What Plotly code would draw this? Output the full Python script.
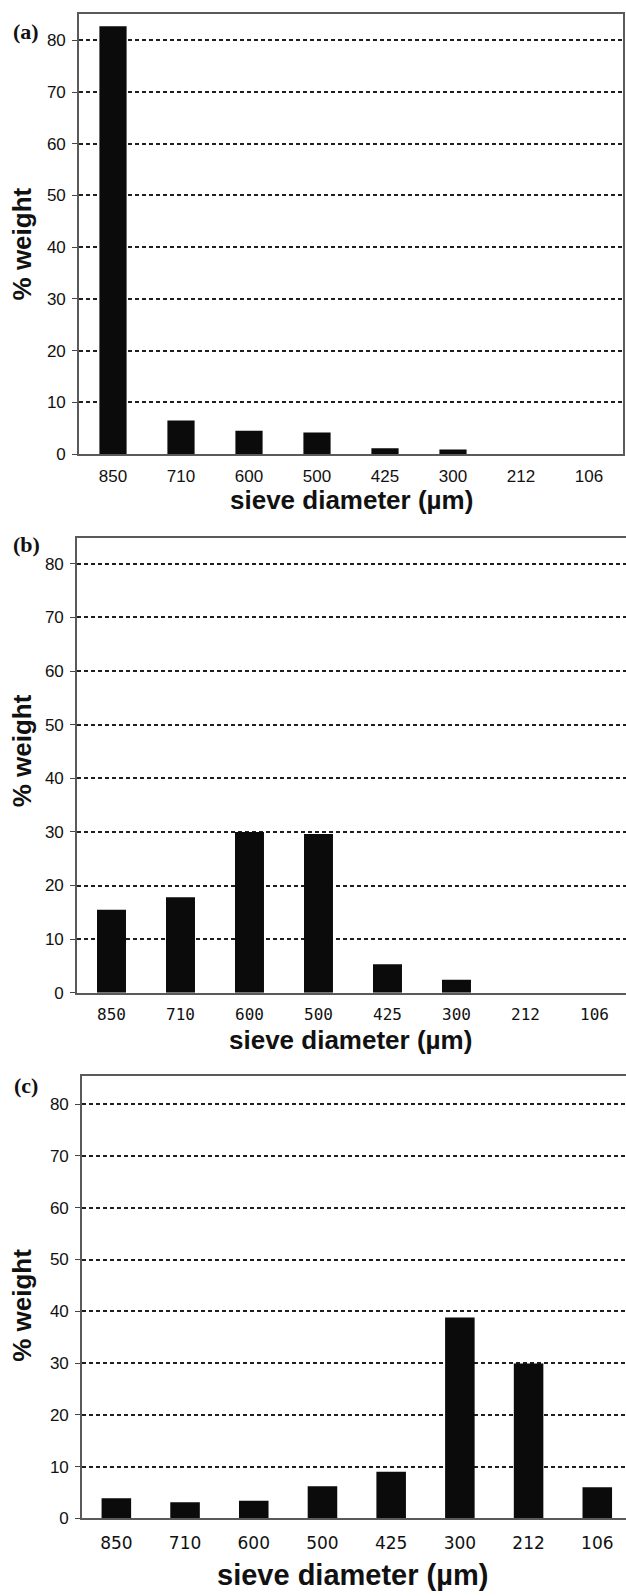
import plotly.graph_objects as go

# ---- data ----
sieve = ["850", "710", "600", "500", "425", "300", "212", "106"]
weight_a = [82.7, 6.5, 4.5, 4.2, 1.15, 0.9, 0, 0]
weight_b = [15.5, 17.8, 30.0, 29.6, 5.3, 2.4, 0, 0]
weight_c = [3.9, 3.1, 3.4, 6.2, 9.0, 38.8, 29.9, 6.0]
panel_labels = ["(a)", "(b)", "(c)"]
y_tickvals = [0, 10, 20, 30, 40, 50, 60, 70, 80]
x_title = "sieve diameter (µm)"
y_title = "% weight"

W, H = 626, 1596


def fx(p):
    return p / W


def fy(p):
    return 1 - p / H


SANS = "Liberation Sans, Arial, sans-serif"

panels = [
    dict(vals=weight_a, left=79, right=623, top=14, bottom=457, xr=[-0.5, 7.5], ymax=85.1,
         bw=0.40, xfont=dict(family=SANS, size=17, color="#111"), standoff=6,
         xt_y=503, xt_size=26, yt_y=246, lab_y=32, mirror_y=True),
    dict(vals=weight_b, left=77, right=626, top=541, bottom=999, xr=[-0.5, 7.457], ymax=84.9,
         bw=0.42, xfont=dict(family="DejaVu Sans Mono, monospace", size=16, color="#111"), standoff=6,
         xt_y=1047, xt_size=26, yt_y=756, lab_y=548, mirror_y=False),
    dict(vals=weight_c, left=82, right=626, top=1083, bottom=1528, xr=[-0.5, 7.418], ymax=85.4,
         bw=0.43, xfont=dict(family="DejaVu Sans, sans-serif", size=17, color="#111"), standoff=8,
         xt_y=1585, xt_size=29, yt_y=1314, lab_y=1092, mirror_y=False),
]

fig = go.Figure()
annotations = []
for i, p in enumerate(panels):
    n = "" if i == 0 else str(i + 1)
    fig.add_trace(go.Bar(
        x=sieve, y=p["vals"], width=p["bw"],
        marker=dict(color="#0b0b0b", line=dict(width=0)),
        xaxis="x" + n, yaxis="y" + n, showlegend=False,
    ))
    fig.layout["xaxis" + n] = dict(
        domain=[fx(p["left"]), fx(p["right"])], anchor="y" + n,
        type="category", categoryorder="array", categoryarray=sieve,
        range=p["xr"], showgrid=False, zeroline=False,
        showline=True, linecolor="#5a5a5a", linewidth=1.6, mirror=True,
        ticks="", tickfont=p["xfont"], ticklabelstandoff=p["standoff"],
        fixedrange=True,
    )
    fig.layout["yaxis" + n] = dict(
        domain=[fy(p["bottom"]), fy(p["top"])], anchor="x" + n,
        range=[0, p["ymax"]], tickvals=y_tickvals,
        showgrid=True, gridcolor="#1e1e1e", gridwidth=1.6, griddash="4px,3px",
        zeroline=False, showline=True, linecolor="#5a5a5a", linewidth=1.6,
        mirror=p["mirror_y"],
        ticks="outside", ticklen=5, tickwidth=1.4, tickcolor="#444",
        tickfont=dict(family=SANS, size=17, color="#111"), ticklabelstandoff=3,
        fixedrange=True,
    )
    cx = (p["left"] + 623) / 2
    annotations.append(dict(
        text="<b>" + x_title + "</b>", x=fx(cx), y=fy(p["xt_y"]), xref="paper", yref="paper",
        xanchor="center", yanchor="middle", showarrow=False,
        font=dict(family=SANS, size=p["xt_size"], color="#111"),
    ))
    annotations.append(dict(
        text="<b>" + y_title + "</b>", x=fx(22), y=fy(p["yt_y"]), xref="paper", yref="paper",
        xanchor="center", yanchor="middle", showarrow=False, textangle=-90,
        font=dict(family=SANS, size=26, color="#111"),
    ))
    annotations.append(dict(
        text="<b>" + panel_labels[i] + "</b>", x=fx(26), y=fy(p["lab_y"]), xref="paper", yref="paper",
        xanchor="center", yanchor="middle", showarrow=False,
        font=dict(family="Liberation Serif, Times New Roman, serif", size=22, color="#111"),
    ))

fig.update_layout(
    width=W, height=H, margin=dict(l=0, r=0, t=0, b=0),
    paper_bgcolor="white", plot_bgcolor="white",
    annotations=annotations, bargap=0.6,
)

fig.write_html("out.html")
